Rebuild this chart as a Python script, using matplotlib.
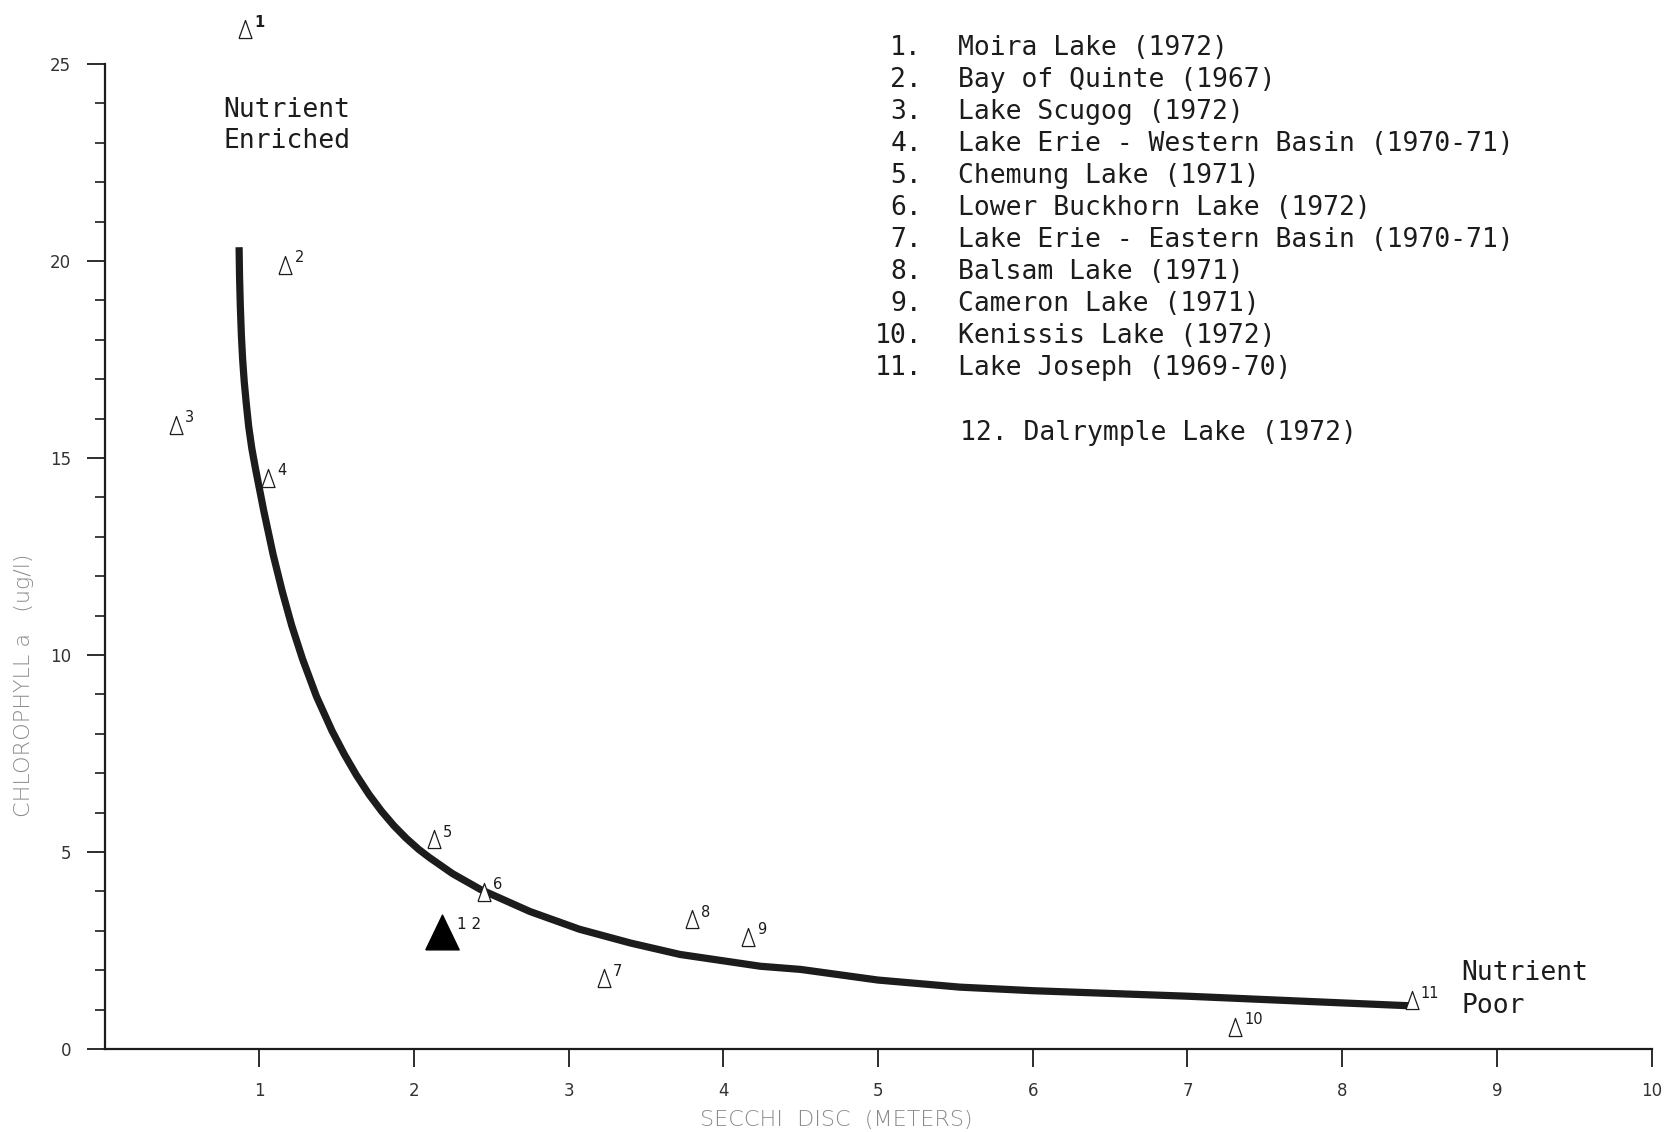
import matplotlib
matplotlib.use("Agg")
import matplotlib.pyplot as plt
from matplotlib.ticker import MultipleLocator

# lakes (number, name) for the key
lake_numbers = ["1.", "2.", "3.", "4.", "5.", "6.", "7.", "8.", "9.", "10.", "11."]
lake_names = [
    "Moira Lake (1972)",
    "Bay of Quinte (1967)",
    "Lake Scugog (1972)",
    "Lake Erie - Western Basin (1970-71)",
    "Chemung Lake (1971)",
    "Lower Buckhorn Lake (1972)",
    "Lake Erie - Eastern Basin (1970-71)",
    "Balsam Lake (1971)",
    "Cameron Lake (1971)",
    "Kenissis Lake (1972)",
    "Lake Joseph (1969-70)",
]
extra_lake = "12. Dalrymple Lake (1972)"

# open triangles: secchi depth (m) and chlorophyll a (ug/l)
point_labels = ["1", "2", "3", "4", "5", "6", "7", "8", "9", "10", "11"]
secchi = [0.91, 1.17, 0.46, 1.06, 2.13, 2.45, 3.23, 3.80, 4.16, 7.31, 8.45]
chlor = [25.88, 19.90, 15.84, 14.50, 5.32, 3.99, 1.80, 3.29, 2.85, 0.57, 1.24]

# Dalrymple Lake (filled)
dal_secchi = 2.18
dal_chlor = 2.98

# hand drawn trend curve
curve_x = [0.870, 0.873, 0.878, 0.885, 0.893, 0.903, 0.916, 0.932, 0.952, 0.975,
           1.030, 1.090, 1.150, 1.210, 1.280, 1.370, 1.470, 1.550, 1.630, 1.710,
           1.790, 1.870, 1.950, 2.030, 2.100, 2.250, 2.430, 2.750, 3.070, 3.400,
           3.720, 4.240, 4.500, 5.000, 5.530, 6.000, 7.000, 7.470, 8.000, 8.480]
curve_y = [20.35, 19.60, 18.85, 18.10, 17.50, 16.95, 16.40, 15.80, 15.25, 14.75,
           13.65, 12.55, 11.60, 10.75, 9.90, 8.95, 8.08, 7.48, 6.94, 6.46,
           6.04, 5.67, 5.35, 5.07, 4.86, 4.45, 4.05, 3.49, 3.04, 2.69,
           2.40, 2.10, 2.02, 1.75, 1.57, 1.48, 1.34, 1.26, 1.17, 1.09]

W, H = 1667, 1132
fig = plt.figure(figsize=(W / 100, H / 100), dpi=100)
ax = fig.add_axes([104.5 / W, 1 - 1049 / H, 1547 / W, 985 / H])

ink = "#1c1c1c"
mono = "DejaVu Sans Mono"

ax.plot(curve_x, curve_y, color=ink, lw=5.2, solid_capstyle="butt",
        solid_joinstyle="round", zorder=2)

tri = [(-0.36, -0.5), (0.36, -0.5), (0.0, 0.5), (-0.36, -0.5)]
big_tri = [(-0.48, -0.5), (0.48, -0.5), (0.0, 0.5), (-0.48, -0.5)]
ax.plot(secchi, chlor, linestyle="none", marker=tri, markersize=13,
        markerfacecolor="white", markeredgecolor=ink, markeredgewidth=0.9,
        clip_on=False, zorder=3)
ax.plot([dal_secchi], [dal_chlor], linestyle="none", marker=big_tri, markersize=25,
        color="black", clip_on=False, zorder=3)

for i, lab in enumerate(point_labels):
    ax.annotate(lab, (secchi[i], chlor[i]), xytext=(6.5, 5), textcoords="offset points",
                ha="left", va="center", fontsize=10.5, color=ink,
                fontweight="bold" if lab == "1" else "normal", annotation_clip=False)
ax.annotate("1 2", (dal_secchi, dal_chlor), xytext=(11, 5), textcoords="offset points",
            ha="left", va="center", fontsize=11, color=ink)

# region notes
ax.text(0.77, 23.66, "Nutrient", fontsize=19, family=mono, color=ink)
ax.text(0.77, 22.88, "Enriched", fontsize=19, family=mono, color=ink)
ax.text(8.77, 1.75, "Nutrient", fontsize=19, family=mono, color=ink)
ax.text(8.77, 0.91, "Poor", fontsize=19, family=mono, color=ink)

# key, typed in the upper right
for i, (num, name) in enumerate(zip(lake_numbers, lake_names)):
    yb = 1 - (55 + 32 * i) / H
    fig.text(922 / W, yb, num, ha="right", va="baseline", fontsize=19, family=mono, color=ink)
    fig.text(958 / W, yb, name, ha="left", va="baseline", fontsize=19, family=mono, color=ink)
fig.text(960 / W, 1 - 440 / H, extra_lake, ha="left", va="baseline", fontsize=19,
         family=mono, color=ink)

ax.set_xlim(0, 10)
ax.set_ylim(0, 25)
ax.spines["top"].set_visible(False)
ax.spines["right"].set_visible(False)
for s in ("left", "bottom"):
    ax.spines[s].set_linewidth(1.6)
    ax.spines[s].set_color(ink)

ax.set_xticks(range(1, 11))
ax.set_yticks(range(0, 26, 5))
ax.yaxis.set_minor_locator(MultipleLocator(1))
ax.tick_params(axis="x", direction="out", length=13, width=1.3, pad=11,
               labelsize=12, colors=ink, labelcolor="#333333")
ax.tick_params(axis="y", which="major", direction="out", length=13, width=1.3, pad=11,
               labelsize=12, colors=ink, labelcolor="#333333")
ax.tick_params(axis="y", which="minor", direction="out", length=7, width=1.2, colors=ink)

fig.text(836 / W, 1 - 1120 / H, "SECCHI  DISC  (METERS)", ha="center", va="center",
         fontsize=16, color="#8a8a8a", fontweight="light")
fig.text(24 / W, 1 - 685 / H, "CHLOROPHYLL a   (ug/l)", ha="center", va="center",
         rotation=90, fontsize=16, color="#8a8a8a", fontweight="light")

fig.savefig("out.png", dpi=100, facecolor="white")
plt.close(fig)
